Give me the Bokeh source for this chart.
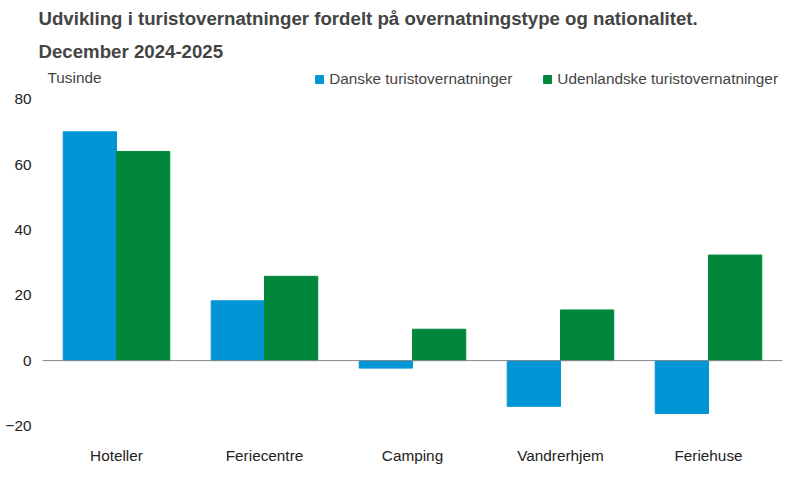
from bokeh.plotting import figure
from bokeh.models import Title, Label, Span, Legend, LegendItem, Range1d, FactorRange
from bokeh.transform import dodge
from bokeh.embed import file_html
from bokeh.resources import INLINE

categories = ["Hoteller", "Feriecentre", "Camping", "Vandrerhjem", "Feriehuse"]
danske = [70.0, 18.3, -2.3, -14.0, -16.2]
udenlandske = [64.0, 25.8, 9.6, 15.5, 32.3]
yticks = [-20, 0, 20, 40, 60, 80]

p = figure(width=784, height=466, x_range=FactorRange(*categories), y_range=Range1d(-22, 90),
           output_backend="svg", toolbar_location=None, min_border_left=42, min_border_right=2)
p.title = None
p.add_layout(Title(text="December 2024-2025", text_font="Liberation Sans", text_font_size="14pt",
                   text_font_style="bold", offset=-4), "above")
p.add_layout(Title(text="Udvikling i turistovernatninger fordelt på overnatningstype og nationalitet.",
                   text_font="Liberation Sans", text_font_size="14pt", text_font_style="bold", offset=-4), "above")
src = dict(x=categories, d=danske, u=udenlandske)
r1 = p.vbar(x=dodge("x", -0.18, range=p.x_range), top="d", width=0.36, source=src, color="#0096D6")
r2 = p.vbar(x=dodge("x", 0.18, range=p.x_range), top="u", width=0.36, source=src, color="#00873C")
p.add_layout(Span(location=0, dimension="width", line_color="#888888", line_width=1))
leg = Legend(items=[LegendItem(label="Danske turistovernatninger", renderers=[r1]),
                    LegendItem(label="Udenlandske turistovernatninger", renderers=[r2])],
             orientation="horizontal", location="top_right", border_line_color=None,
             background_fill_alpha=0, label_text_font="Liberation Sans", label_text_font_size="11.5pt",
             glyph_width=10, glyph_height=10, spacing=30, margin=4)
p.add_layout(leg)
p.add_layout(Label(x=5, y=84, x_units="screen", y_units="data", text="Tusinde", text_font="Liberation Sans",
                   text_font_size="11.5pt"))
p.xgrid.grid_line_color = None
p.ygrid.grid_line_color = None
p.outline_line_color = None
for ax in (p.xaxis, p.yaxis):
    ax.axis_line_color = None
    ax.major_tick_line_color = None
    ax.minor_tick_line_color = None
    ax.major_label_text_font = "Liberation Sans"
    ax.major_label_text_font_size = "11.5pt"
    ax.major_label_text_color = "#222222"
p.yaxis.ticker = yticks
p.xaxis.major_label_standoff = 8
open("out.html", "w").write(file_html(p, INLINE))
